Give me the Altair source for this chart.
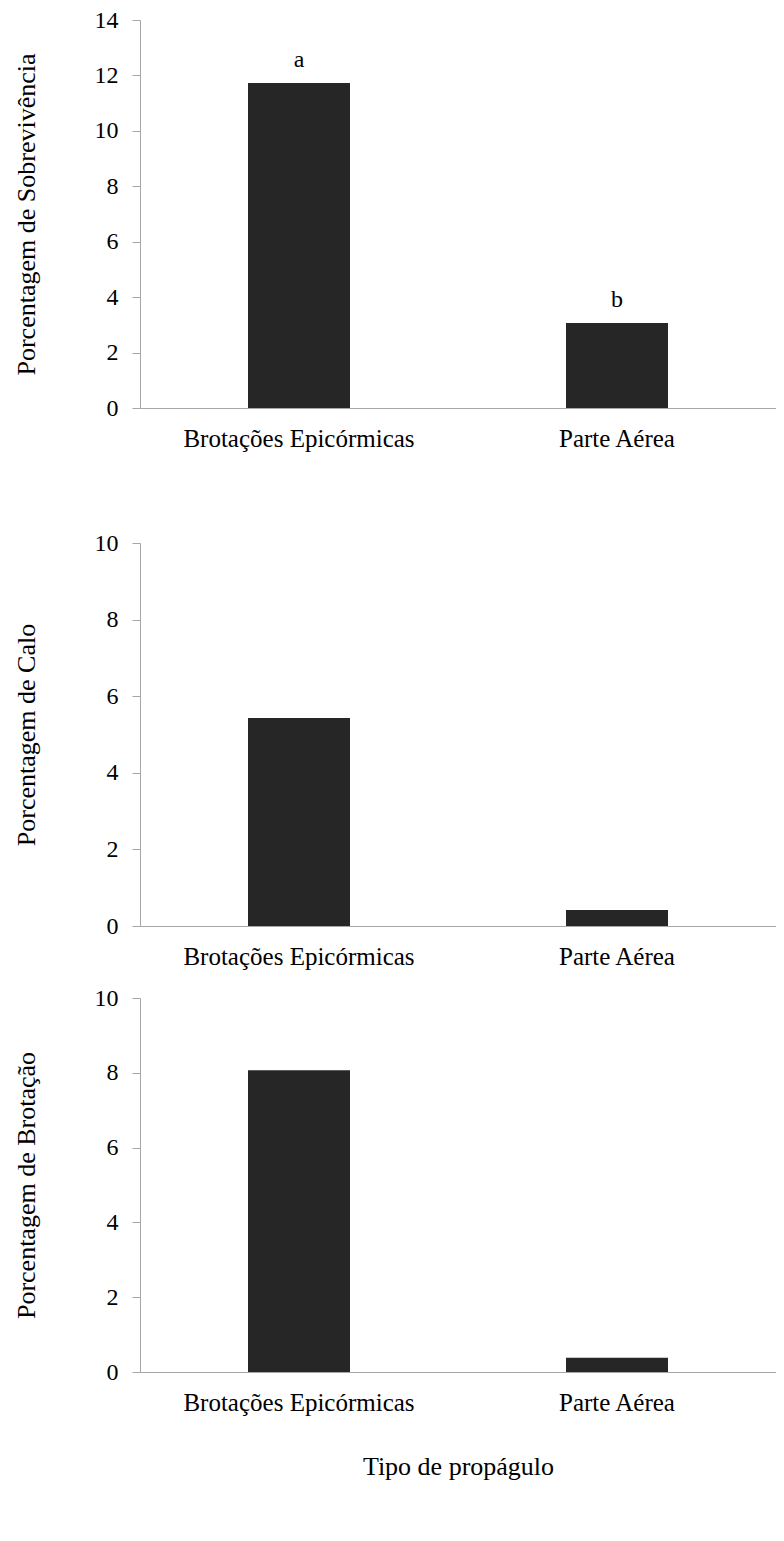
import altair as alt
import pandas as pd

categories = ["Brotações Epicórmicas", "Parte Aérea"]
sobrevivencia = [11.73, 3.07]
calo = [5.43, 0.42]
brotacao = [8.07, 0.38]
letras = ["a", "b"]

FONT = "Liberation Serif"
W = 636
BAR = 102
AXC = "#a6a6a6"


def panel(values, ytitle, ymax, height, labels=None, xtitle=None):
    df = pd.DataFrame({"cat": categories, "val": values,
                       "lab": labels if labels else ["", ""]})
    xenc = alt.X("cat:N", sort=categories,
                 scale=alt.Scale(paddingInner=0, paddingOuter=0),
                 axis=alt.Axis(labelAngle=0, ticks=False, labelPadding=18,
                               labelLimit=0, labelFontSize=25,
                               domainColor=AXC, title=xtitle,
                               titleFontSize=26, titlePadding=38,
                               titleFont=FONT, titleFontWeight="normal",
                               titleColor="black"))
    yenc = alt.Y("val:Q",
                 scale=alt.Scale(domain=[0, ymax], nice=False),
                 axis=alt.Axis(values=list(range(0, ymax + 1, 2)), grid=False,
                               tickSize=8, labelPadding=14, labelFontSize=24,
                               domainColor=AXC, tickColor=AXC, title=ytitle,
                               titleFontSize=26, titleFont=FONT,
                               titleFontWeight="normal", titleColor="black",
                               titlePadding=55))
    base = alt.Chart(df).encode(x=xenc, y=yenc)
    bars = base.mark_bar(color="#262626", size=BAR)
    layers = [bars]
    if labels:
        txt = base.mark_text(dy=-23, font=FONT, fontSize=24, color="black").encode(
            text="lab:N")
        layers.append(txt)
    return alt.layer(*layers).properties(width=W, height=height)


p1 = panel(sobrevivencia, "Porcentagem de Sobrevivência", 14, 388, labels=letras)
p2 = panel(calo, "Porcentagem de Calo", 10, 383)
p3 = panel(brotacao, "Porcentagem de Brotação", 10, 374, xtitle="Tipo de propágulo")

chart = alt.vconcat(p1, alt.vconcat(p2, p3, spacing=17), spacing=80).properties(
    padding={"left": 5, "top": 0, "right": 0, "bottom": 5}
).configure_view(stroke=None).configure_axis(
    labelFont=FONT, labelColor="black"
)

chart.save("out.html", embed_options={"renderer": "svg", "actions": False})
